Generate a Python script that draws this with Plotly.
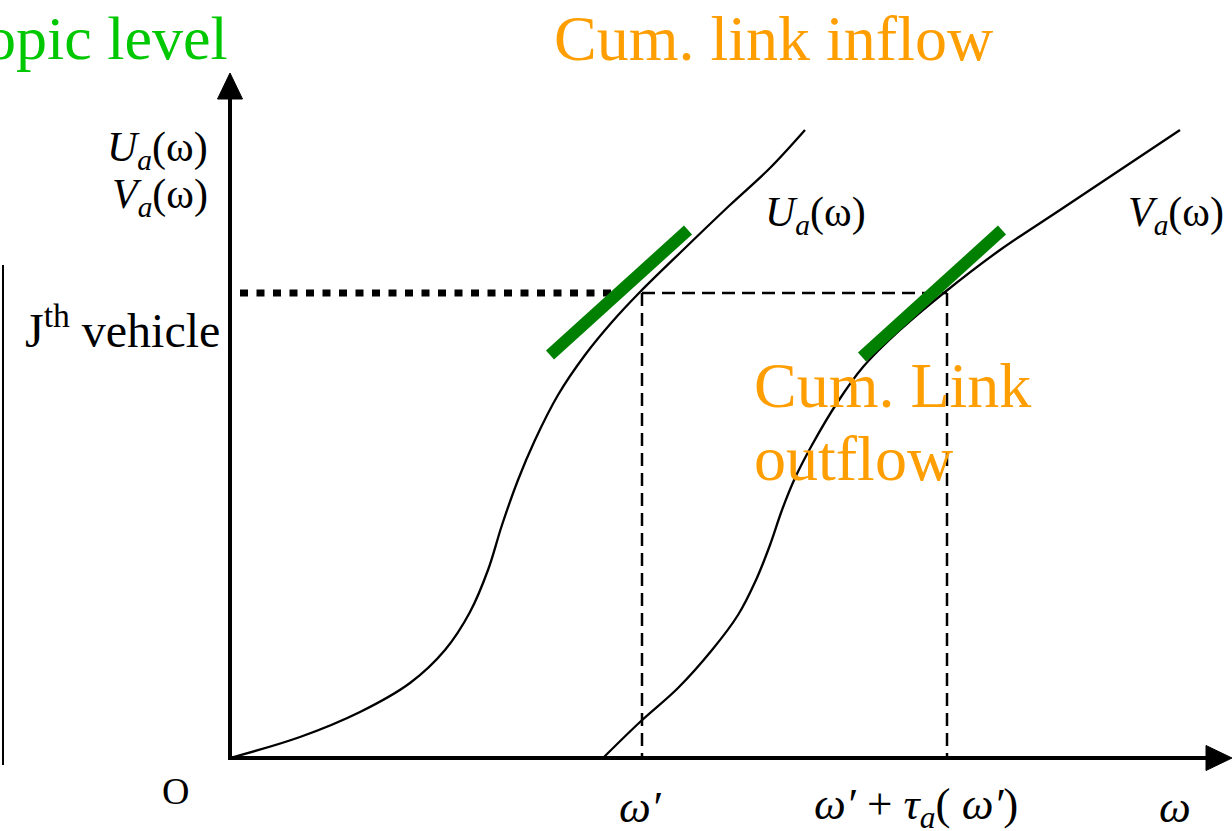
import plotly.graph_objects as go

# Curves (data units: origin at the axes' corner)
u_x = [0, 70, 130, 180, 215, 240, 258, 272, 288, 305, 328, 355, 382, 410, 453, 500, 540, 575]
u_y = [0, 21, 46, 75, 108, 146, 188, 233, 278, 318, 363, 403, 436, 466, 508, 553, 590, 628]
v_x = [373, 410, 448, 482, 508, 526, 540, 552, 565, 582, 607, 633, 670, 715, 770, 830, 890, 950]
v_y = [0, 36, 70, 108, 143, 178, 213, 248, 280, 313, 355, 391, 428, 466, 508, 548, 588, 628]

# Key levels
j_level = 465
omega_p = 412
omega_p_tau = 717

# Tangent (green) segments
bar1_x = [320, 458]
bar1_y = [403, 528]
bar2_x = [632, 772]
bar2_y = [401, 528]

X_MIN, X_MAX = -230, 1002
Y_MIN, Y_MAX = -73, 758
Y_AXIS_TOP = 685
X_AXIS_END = 1002
ARROW_LEN = 26
ARROW_HALF = 12.5

GREEN_TXT = "#00C800"
ORANGE = "#FF9E00"
SERIF = "Liberation Serif"

fig = go.Figure()

# Axes lines
fig.add_trace(go.Scatter(x=[0, 0], y=[-2, Y_AXIS_TOP - ARROW_LEN], mode="lines",
                         line=dict(color="black", width=4), hoverinfo="skip"))
fig.add_trace(go.Scatter(x=[-2, X_AXIS_END - ARROW_LEN], y=[0, 0], mode="lines",
                         line=dict(color="black", width=4), hoverinfo="skip"))
# Arrowheads
fig.add_trace(go.Scatter(x=[-ARROW_HALF, 0, ARROW_HALF, -ARROW_HALF],
                         y=[Y_AXIS_TOP - ARROW_LEN, Y_AXIS_TOP, Y_AXIS_TOP - ARROW_LEN, Y_AXIS_TOP - ARROW_LEN],
                         mode="lines", fill="toself", fillcolor="black",
                         line=dict(color="black", width=1), hoverinfo="skip"))
fig.add_trace(go.Scatter(x=[X_AXIS_END - ARROW_LEN, X_AXIS_END, X_AXIS_END - ARROW_LEN, X_AXIS_END - ARROW_LEN],
                         y=[-ARROW_HALF, 0, ARROW_HALF, -ARROW_HALF],
                         mode="lines", fill="toself", fillcolor="black",
                         line=dict(color="black", width=1), hoverinfo="skip"))

# Left bracket line
fig.add_trace(go.Scatter(x=[-227, -227], y=[493, -7], mode="lines",
                         line=dict(color="black", width=2), hoverinfo="skip"))

# Dotted J-th vehicle level (left part, thick)
fig.add_trace(go.Scatter(x=[10, 390], y=[j_level, j_level], mode="lines",
                         line=dict(color="black", width=7, dash="8px,8.5px"), hoverinfo="skip"))
# Dashed continuation
DASH = dict(color="black", width=2.5, dash="13px,7px")
fig.add_trace(go.Scatter(x=[omega_p, omega_p_tau], y=[j_level, j_level], mode="lines",
                         line=DASH, hoverinfo="skip"))
fig.add_trace(go.Scatter(x=[omega_p, omega_p], y=[j_level, 0], mode="lines",
                         line=DASH, hoverinfo="skip"))
fig.add_trace(go.Scatter(x=[omega_p_tau, omega_p_tau], y=[j_level, 0], mode="lines",
                         line=DASH, hoverinfo="skip"))

# Curves
fig.add_trace(go.Scatter(x=u_x, y=u_y, mode="lines", line=dict(color="black", width=2.3, shape="spline"),
                         hoverinfo="skip"))
fig.add_trace(go.Scatter(x=v_x, y=v_y, mode="lines", line=dict(color="black", width=2.3, shape="spline"),
                         hoverinfo="skip"))

# Green tangent bars
fig.add_trace(go.Scatter(x=bar1_x, y=bar1_y, mode="lines", line=dict(color="#008000", width=12),
                         hoverinfo="skip"))
fig.add_trace(go.Scatter(x=bar2_x, y=bar2_y, mode="lines", line=dict(color="#008000", width=12),
                         hoverinfo="skip"))


def txt(x, y, text, size, color="black", xanchor="left", yanchor="middle"):
    fig.add_annotation(x=x, y=y, text=text, showarrow=False, xanchor=xanchor, yanchor=yanchor,
                       font=dict(family=SERIF, size=size, color=color))


txt(0, 720, "opic level", 62, GREEN_TXT, xanchor="right")
txt(322, 720, "Cum. link inflow", 64, ORANGE)
txt(-20, 608, "<i>U</i><sub><i>a</i></sub>(ω)", 42, xanchor="right")
txt(-20, 561, "<i>V</i><sub><i>a</i></sub>(ω)", 42, xanchor="right")
txt(-8, 431, "J<sup>th</sup> vehicle", 48, xanchor="right")
txt(533, 543, "<i>U</i><sub><i>a</i></sub>(ω)", 42)
txt(896, 543, "<i>V</i><sub><i>a</i></sub>(ω)", 42)
txt(522, 373, "Cum. Link", 64, ORANGE)
txt(522, 300, "outflow", 64, ORANGE)
txt(-55, -33, "O", 38, xanchor="center")
txt(410, -49, "<i>ω′</i>", 45, xanchor="center")
txt(686, -49, "<i>ω′</i> + <i>τ</i><sub><i>a</i></sub>( <i>ω′</i>)", 45, xanchor="center")
txt(945, -49, "<i>ω</i>", 45, xanchor="center")

fig.update_layout(
    width=1232, height=831,
    margin=dict(l=0, r=0, t=0, b=0),
    paper_bgcolor="white", plot_bgcolor="white",
    showlegend=False,
    xaxis=dict(range=[X_MIN, X_MAX], visible=False, fixedrange=True),
    yaxis=dict(range=[Y_MIN, Y_MAX], visible=False, fixedrange=True),
)

fig.write_html("out.html",
               post_script="document.body.style.margin='0';document.body.style.overflow='hidden';",
               config={"displayModeBar": False})
